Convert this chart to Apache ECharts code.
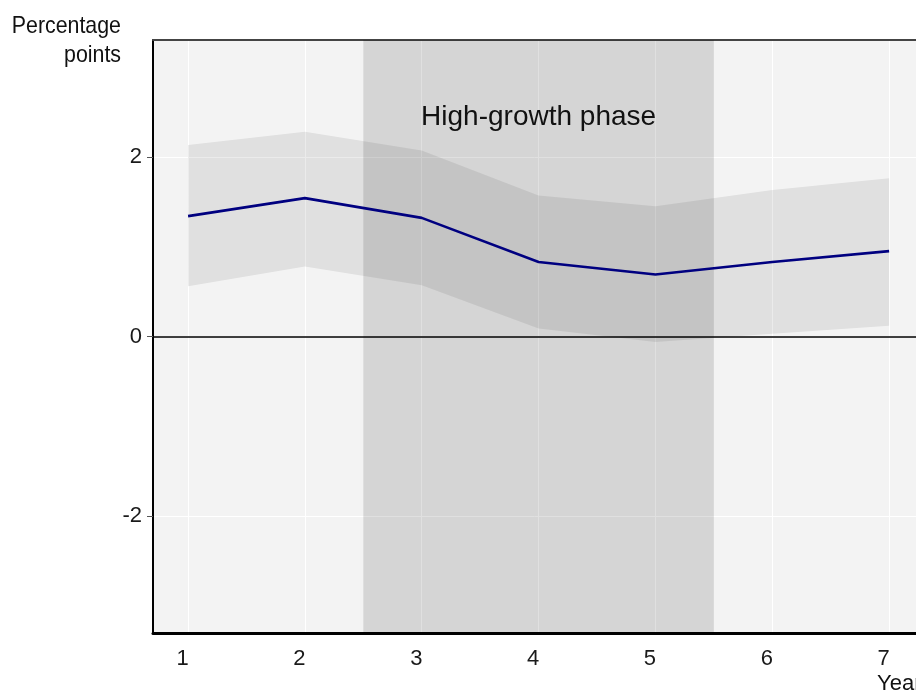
<!DOCTYPE html>
<html>
<head>
<meta charset="utf-8">
<script src="https://cdn.jsdelivr.net/npm/echarts@6/dist/echarts.min.js"></script>
<style>
  html, body { margin: 0; padding: 0; background: #ffffff; }
  #chart { width: 916px; height: 695px; }
</style>
</head>
<body>
<div id="chart"></div>
<script>
// Years after the start of the episode
const years = [1, 2, 3, 4, 5, 6, 7];
// Point estimate (percentage points)
const estimate = [1.34, 1.54, 1.32, 0.83, 0.69, 0.83, 0.95];
// Confidence band
const upperBand = [2.13, 2.28, 2.07, 1.57, 1.45, 1.63, 1.76];
const lowerBand = [0.56, 0.78, 0.57, 0.09, -0.06, 0.03, 0.12];
// Axis ticks
const xTicks = [1, 2, 3, 4, 5, 6, 7];
const yTicks = [-2, 0, 2];
// Shaded phase
const phaseRange = [2.5, 5.5];
const phaseLabel = 'High-growth phase';
const yUnitLabel = 'Percentage\npoints';
const xName = 'Year';

const FONT = '"Liberation Sans", Arial, sans-serif';

const bandData = years.map((x, i) => [x, lowerBand[i], upperBand[i]]);
const estPts = years.map((x, i) => [x, estimate[i]]);

// Whole band drawn as one polygon: upper edge left→right, lower edge right→left
function renderBand(params, api) {
  if (params.dataIndex !== 0) return null;
  const top = years.map((x, i) => api.coord([x, upperBand[i]]));
  const bottom = years.map((x, i) => api.coord([x, lowerBand[i]])).reverse();
  return {
    type: 'polygon',
    shape: { points: top.concat(bottom) },
    style: { fill: 'rgba(0,0,0,0.077)' },
    silent: true
  };
}

const chart = echarts.init(document.getElementById('chart'), null, { renderer: 'canvas' });

chart.setOption({
  animation: false,
  backgroundColor: '#ffffff',
  grid: {
    left: 153, right: 0, top: 40, bottom: 62,
    show: true, backgroundColor: '#f3f3f3', borderWidth: 0
  },
  xAxis: [{
    type: 'value', min: 0.7, max: 7.23,
    axisLine: { show: true, onZero: false, lineStyle: { color: '#000', width: 3 } },
    axisTick: { show: false, customValues: xTicks },
    axisLabel: {
      customValues: xTicks, fontFamily: FONT, fontSize: 22, color: '#1a1a1a',
      margin: 15, padding: [0, 11, 0, 0]
    },
    splitLine: { show: true, lineStyle: { color: '#ffffff', width: 1 } }
  }, {
    type: 'value', position: 'top', min: 0.7, max: 7.23,
    axisLine: { show: true, onZero: false, lineStyle: { color: '#444', width: 2 } },
    axisTick: { show: false }, axisLabel: { show: false }, splitLine: { show: false }
  }],
  yAxis: {
    type: 'value', min: -3.3, max: 3.3,
    axisLine: { show: true, onZero: false, lineStyle: { color: '#000', width: 2 } },
    axisTick: { show: true, customValues: yTicks, length: 6, lineStyle: { color: '#555', width: 1 } },
    axisLabel: {
      customValues: yTicks, fontFamily: FONT, fontSize: 22, color: '#1a1a1a', margin: 11,
      padding: [9, 0, 0, 0],
      formatter: v => String(v)
    },
    splitLine: { show: true, lineStyle: { color: '#ffffff', width: 1 } }
  },
  series: [{
    name: 'band',
    type: 'custom',
    renderItem: renderBand,
    data: bandData,
    encode: { x: 0, y: [1, 2] },
    silent: true,
    z: 2,
    markArea: {
      silent: true,
      itemStyle: { color: 'rgba(0,0,0,0.123)' },
      label: {
        show: true, position: 'insideTop', distance: 63,
        fontFamily: FONT, fontSize: 28, color: '#111'
      },
      data: [[{ xAxis: phaseRange[0], name: phaseLabel }, { xAxis: phaseRange[1] }]]
    }
  }, {
    name: 'estimate',
    type: 'line',
    data: estPts,
    symbol: 'none',
    lineStyle: { color: '#000080', width: 2.6 },
    silent: true,
    z: 4,
    markLine: {
      silent: true, symbol: 'none', label: { show: false },
      lineStyle: { color: '#000', width: 1.6, type: 'solid' },
      data: [{ yAxis: 0 }]
    }
  }],
  graphic: [{
    type: 'text', x: 121, y: 12, scaleX: 0.89, originX: 0, originY: 0,
    style: {
      text: yUnitLabel, align: 'right', verticalAlign: 'top',
      font: '24px ' + FONT, lineHeight: 29, fill: '#111'
    }
  }, {
    type: 'text', x: 877, y: 673,
    style: { text: xName, align: 'left', verticalAlign: 'top', font: '22px ' + FONT, fill: '#111' }
  }]
});
</script>
</body>
</html>
